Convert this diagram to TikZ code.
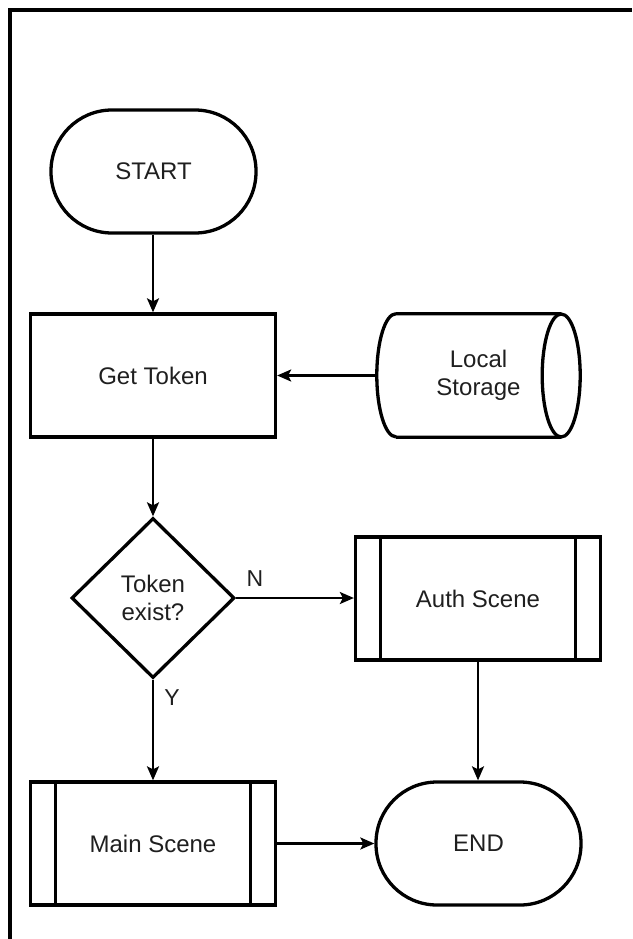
\documentclass[tikz,border=0pt]{standalone}
\usepackage{fontspec}
\setmainfont{Liberation Sans}
\usetikzlibrary{shapes.geometric,arrows.meta}

\begin{document}
\begin{tikzpicture}[x=1pt,y=-1pt,
  every node/.style={font=\fontsize{24}{27.5}\selectfont,text=black!88,align=center,inner sep=0pt},
  shapeline/.style={draw=black,line width=3.3pt},
  terminal/.style={shapeline,rounded corners=61pt,minimum width=205pt,minimum height=123pt},
  procbox/.style={shapeline,minimum width=245pt,minimum height=123pt},
  subproc/.style={procbox,
    path picture={
      \draw[line width=3.3pt]
        ([xshift=25pt]path picture bounding box.north west) -- ([xshift=25pt]path picture bounding box.south west)
        ([xshift=-25pt]path picture bounding box.north east) -- ([xshift=-25pt]path picture bounding box.south east);
    }},
  decision/.style={shapeline,diamond,minimum width=163pt,minimum height=160pt},
  storebox/.style={minimum width=203pt,minimum height=123pt},
  conn/.style={draw=black,line width=2.2pt,-{Stealth[length=14pt,width=12pt,inset=3pt]}},
  edgelabel/.style={font=\fontsize{23}{26}\selectfont}
]
\useasboundingbox (0,0) rectangle (632,939);

% page frame (top and left edges)
\draw[line width=4.5pt] (10,939) -- (10,10) -- (632,10);

% nodes
\node[terminal] (start) at (153.5,171.5) {START};
\node[procbox] (get) at (153,375.5) {Get Token};
\node[storebox] (ls) at (478.5,375.5) {Local\\Storage};
\node[decision] (dec) at (153,598) {Token\\exist?};
\node[subproc] (auth) at (478,598.5) {Auth Scene};
\node[subproc] (main) at (153,843.5) {Main Scene};
\node[terminal] (end) at (478.5,843.5) {END};

% cylinder outline for local storage
\draw[shapeline]
  ([xshift=19pt]ls.north west) -- ([xshift=-19pt]ls.north east)
  ([xshift=19pt]ls.south west) -- ([xshift=-19pt]ls.south east)
  ([xshift=19pt]ls.north west) arc[start angle=-90,end angle=-270,x radius=19pt,y radius=-61.5pt];
\draw[shapeline] ([xshift=-19pt]ls.east) ellipse[x radius=19pt,y radius=61.5pt];

% connectors
\draw[conn] (start.south -| get.north) -- (get.north);
\draw[conn] (ls.west) -- (get.east);
\draw[conn] (get.south) -- (dec.north);
\draw[conn] (dec.east) -- (dec.east -| auth.west);
\draw[conn] (dec.south) -- (main.north);
\draw[conn] (auth.south) -- (auth.south |- end.north);
\draw[conn] (main.east) -- (main.east -| end.west);

% branch labels
\node[edgelabel] (nlab) at (255,579) {N};
\node[edgelabel] (ylab) at (172,698) {Y};
\end{tikzpicture}
\end{document}
